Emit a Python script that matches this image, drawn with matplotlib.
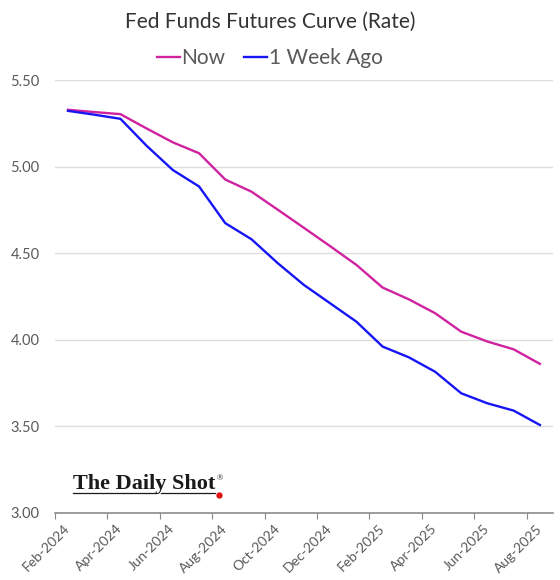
"""
Fed Funds futures curve: now vs. one week ago (monthly contracts).
Writes out.png
"""
import matplotlib
matplotlib.use("Agg")
import matplotlib.pyplot as plt
from matplotlib.lines import Line2D
import numpy as np

months = ["Feb-2024", "Mar-2024", "Apr-2024", "May-2024", "Jun-2024", "Jul-2024",
          "Aug-2024", "Sep-2024", "Oct-2024", "Nov-2024", "Dec-2024", "Jan-2025",
          "Feb-2025", "Mar-2025", "Apr-2025", "May-2025", "Jun-2025", "Jul-2025",
          "Aug-2025"]
now = [5.328, 5.315, 5.303, 5.22, 5.14, 5.077, 4.925, 4.855, 4.751, 4.646,
       4.54, 4.432, 4.301, 4.233, 4.153, 4.046, 3.989, 3.944, 3.86]
week_ago = [5.322, 5.30, 5.276, 5.12, 4.98, 4.885, 4.673, 4.58, 4.442, 4.316,
            4.21, 4.104, 3.96, 3.898, 3.815, 3.69, 3.632, 3.59, 3.507]
yticks = [3.00, 3.50, 4.00, 4.50, 5.00, 5.50]

plt.rcParams["font.family"] = ["Lato", "DejaVu Sans"]

W, H = 560, 580
fig = plt.figure(figsize=(W / 100, H / 100), dpi=100)
ax = fig.add_axes([0.098, 0.116, 0.8895, 0.746])

x = np.arange(len(months))
ax.plot(x, now, color="#D0229F", lw=1.7, label="Now", solid_joinstyle="round")
ax.plot(x, week_ago, color="#1515F5", lw=1.7, label="1 Week Ago", solid_joinstyle="round")

ax.set_xlim(-0.5, len(months) - 0.5)
ax.set_ylim(3.0, 5.5)
ax.set_yticks(yticks)
ax.set_yticklabels([f"{v:.2f}" for v in yticks])
ax.grid(axis="y", color="#dedede", lw=1.0)
ax.set_axisbelow(True)

# tick marks between every second category, labels on the categories
ax.set_xticks(np.arange(-0.5, len(months) - 0.5, 2))
ax.set_xticklabels([])
ax.set_xticks(x[::2], minor=True)
ax.set_xticklabels(months[::2], minor=True, rotation=45, ha="right",
                   va="center", rotation_mode="anchor")
ax.tick_params(axis="x", which="major", length=4, color="#888888", direction="out")
ax.tick_params(axis="x", which="minor", length=0, pad=10, labelsize=10,
               labelcolor="#595959")
ax.tick_params(axis="y", length=0, pad=11, labelsize=10.5, labelcolor="#595959")

for s in ["top", "right", "left"]:
    ax.spines[s].set_visible(False)
ax.spines["bottom"].set_color("#8c8c8c")
ax.spines["bottom"].set_linewidth(1.2)

fig.text(0.482, 0.963, "Fed Funds Futures Curve (Rate)", ha="center", va="center",
         fontsize=15, color="#333333")
fig.legend(loc="center", bbox_to_anchor=(0.482, 0.900), ncol=2, frameon=False,
           fontsize=15, labelcolor="#595959", handlelength=1.1, handletextpad=0.1,
           columnspacing=0.9)

# watermark
base_y = 1 - 489 / H
wm = fig.text(73 / W, base_y, "The Daily Shot", fontsize=16, family="Liberation Serif",
              fontweight="bold", color="#1a1a1a", ha="left", va="baseline")
r = fig.canvas.get_renderer()
bb = wm.get_window_extent(r)
x0, x1 = bb.x0 / W, bb.x1 / W
fig.text(x1 + 1 / W, base_y + 9 / H, "\u00ae", fontsize=6, family="Liberation Serif",
         color="#1a1a1a", ha="left", va="baseline")
uy = 1 - 493 / H
split = x0 + (x1 - x0) * 0.58
fig.add_artist(Line2D([x0, split], [uy, uy], color="#1a1a1a", lw=0.9))
fig.add_artist(Line2D([split + 5 / W, x1], [uy, uy], color="#1a1a1a", lw=0.9))
fig.add_artist(Line2D([x1 + 4 / W], [1 - 495 / H], marker="o", ms=3.5,
                      color="#e01010", lw=0))

fig.savefig("out.png", dpi=100)
